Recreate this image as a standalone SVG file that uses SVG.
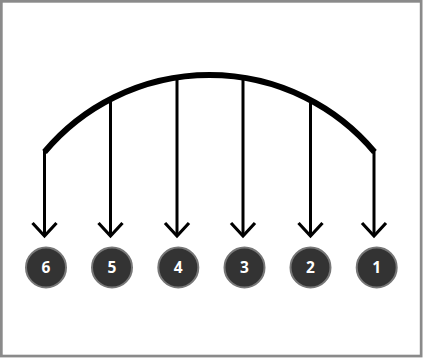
<svg xmlns="http://www.w3.org/2000/svg" width="427" height="358" viewBox="0 0 427 358">
<style>
.frame{fill:#fff;stroke:#8a8a8a;stroke-width:2.7}
.arc{fill:none;stroke:#000;stroke-width:6;stroke-linecap:butt}
.con{fill:none;stroke:#000;stroke-width:3;marker-end:url(#ah)}
.node circle{fill:#333;stroke:#777;stroke-width:2}
.node text{fill:#fff;font-family:"Open Sans","Liberation Sans",sans-serif;font-weight:bold;font-size:15.5px;text-anchor:middle}
</style>
<defs>
<marker id="ah" markerUnits="userSpaceOnUse" markerWidth="30" markerHeight="30" refX="15" refY="16" orient="auto-start-reverse" viewBox="0 0 30 30">
<polyline points="3,3 15,16 27,3" fill="none" stroke="#000" stroke-width="3.2" transform="rotate(-90 15 16)"/>
</marker>
</defs>
<rect class="frame" x="1.35" y="1.35" width="419.8" height="354.7"/>
<g id="connectors">
<path class="arc" d="M44.5,152 A215.3,215.3 0 0 1 374.5,152"/>
<path class="con" d="M44.5,150 V236"/>
<path class="con" d="M110.5,97 V236"/>
<path class="con" d="M177,77 V236"/>
<path class="con" d="M243,77 V236"/>
<path class="con" d="M310.5,98 V236"/>
<path class="con" d="M374,150 V236"/>
</g>
<g id="n6" class="node"><circle cx="46" cy="267.5" r="20"/><text x="46" y="273">6</text></g>
<g id="n5" class="node"><circle cx="112" cy="267.5" r="20"/><text x="112" y="273">5</text></g>
<g id="n4" class="node"><circle cx="178.3" cy="267.5" r="20"/><text x="178.3" y="273">4</text></g>
<g id="n3" class="node"><circle cx="244.5" cy="267.5" r="20"/><text x="244.5" y="273">3</text></g>
<g id="n2" class="node"><circle cx="310.5" cy="267.5" r="20"/><text x="310.5" y="273">2</text></g>
<g id="n1" class="node"><circle cx="376.7" cy="267.5" r="20"/><text x="376.7" y="273">1</text></g>
</svg>
